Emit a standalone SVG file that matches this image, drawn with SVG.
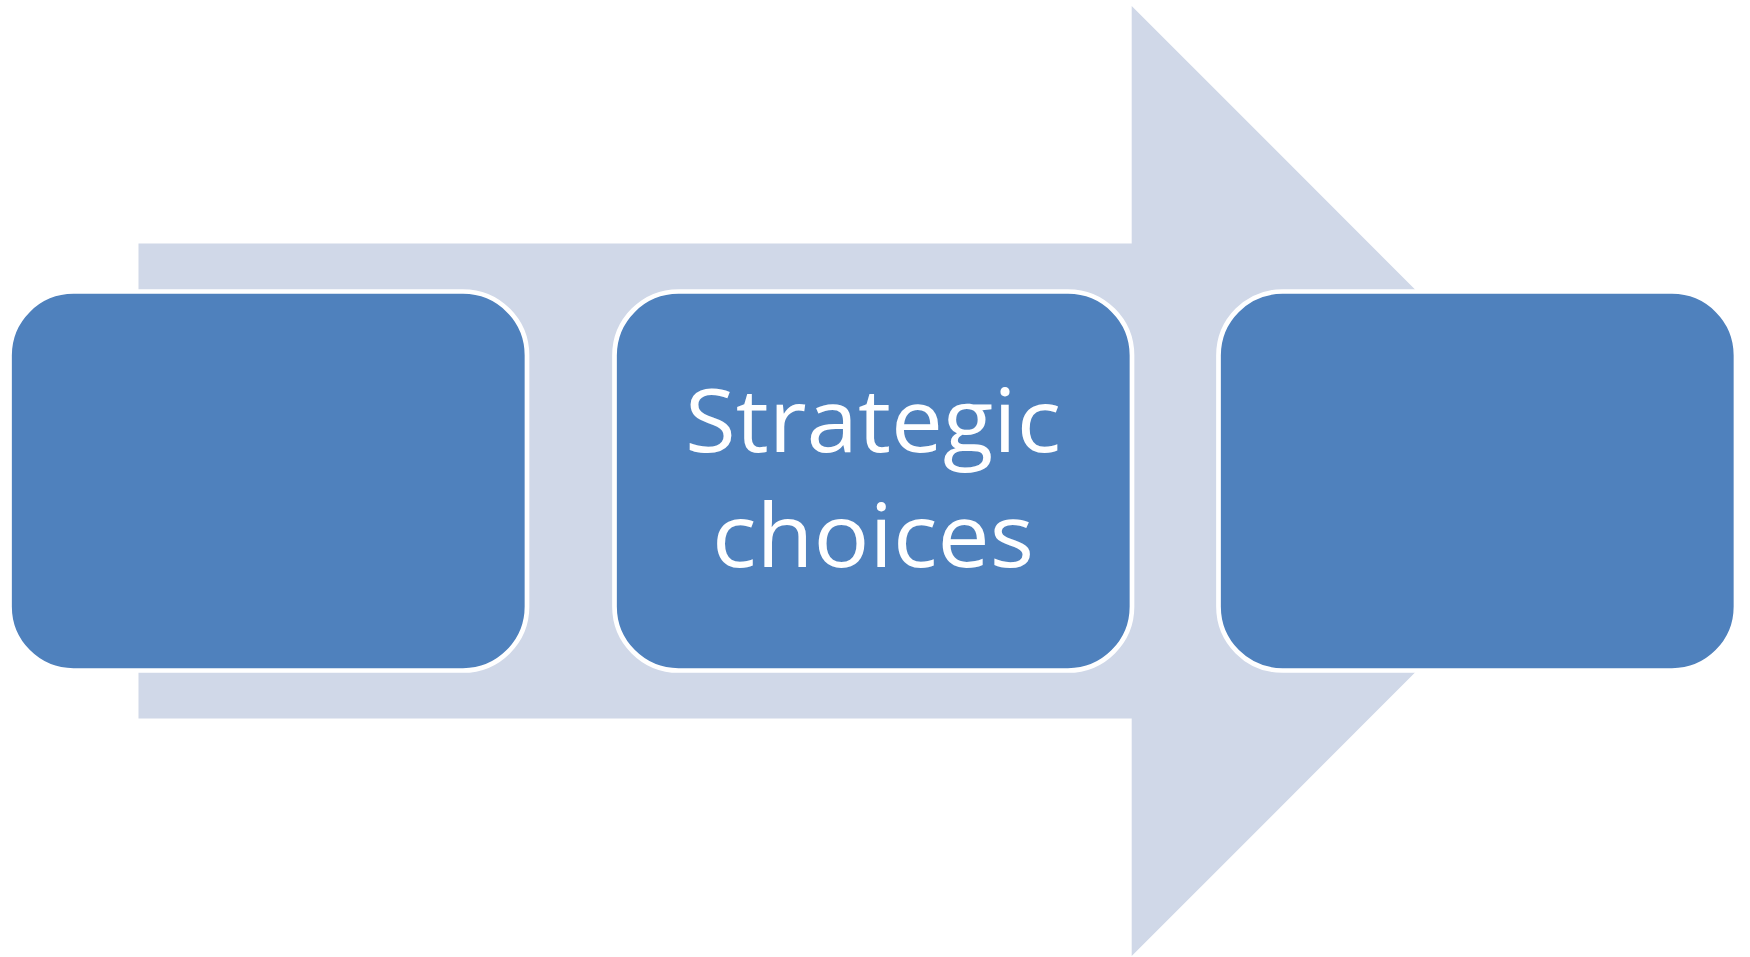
<svg xmlns="http://www.w3.org/2000/svg" width="1750" height="957" viewBox="0 0 1750 957">
  <style>
    .box { fill: #4F81BD; stroke: #FFFFFF; stroke-width: 4.7; }
    .label { fill: #FFFFFF; font-family: "Open Sans", "Liberation Sans", sans-serif; font-size: 88px; text-anchor: middle; }
  </style>
  <rect width="1750" height="957" fill="#FFFFFF"/>
  <!-- background process arrow -->
  <g id="connectors">
    <polygon id="process-arrow" fill="#D0D8E8" points="138.5,243.5 1131.7,243.5 1131.7,6 1606.5,481 1131.7,956 1131.7,718.5 138.5,718.5"/>
  </g>
  <g id="step-1">
    <rect class="box" x="9.5" y="291.5" width="517.5" height="379" rx="64" ry="64"/>
  </g>
  <g id="step-2">
    <rect class="box" x="614.5" y="291.5" width="517.5" height="379" rx="64" ry="64"/>
    <text class="label" x="873" y="452" textLength="376" lengthAdjust="spacingAndGlyphs">Strategic</text>
    <text class="label" x="873" y="567" textLength="322" lengthAdjust="spacingAndGlyphs">choices</text>
  </g>
  <g id="step-3">
    <rect class="box" x="1218.5" y="291.5" width="517.5" height="379" rx="64" ry="64"/>
  </g>
</svg>
